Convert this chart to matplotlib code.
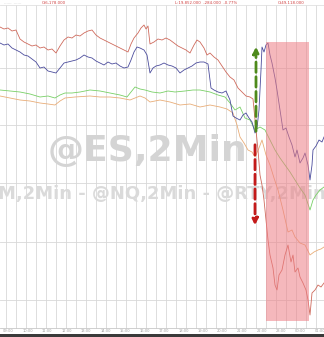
import matplotlib.pyplot as plt
from matplotlib.patches import Rectangle

# chart levels (screen units, top = 0)
red_x = [0, 4, 8, 12, 16, 20, 24, 28, 32, 36, 40, 44, 48, 52, 56, 60, 64, 68, 72, 76, 80, 84, 88,
         92, 96, 100, 104, 108, 112, 116, 120, 124, 128, 131, 134, 138, 141, 144, 146, 148, 150,
         154, 158, 162, 166, 170, 174, 178, 182, 186, 190, 194, 197, 200, 204, 207, 210, 214, 218,
         222, 226, 230, 234, 238, 242, 246, 250, 253, 256, 258, 260, 262, 264, 266, 268, 270, 273,
         275, 277, 279, 282, 285, 288, 291, 293, 295, 298, 300, 303, 306, 308, 310, 312, 315, 318,
         321, 324]
red_y = [27, 29, 28, 31, 30, 39, 42, 44, 46, 45, 48, 47, 50, 49, 53, 46, 40, 37, 38, 35, 36, 33, 31,
         30, 35, 38, 40, 42, 44, 46, 48, 50, 52, 44, 38, 33, 28, 25, 29, 26, 44,
         42, 39, 40, 38, 40, 43, 46, 48, 50, 53, 45, 40, 42, 48, 55, 53, 57, 60,
         66, 72, 77, 80, 88, 92, 96, 97, 99, 130, 150, 175, 185, 200, 220, 240, 255, 268,
         285, 290, 275, 270, 255, 245, 262, 255, 272, 268, 277, 283, 290, 300, 315, 293, 290, 285,
         287, 283]

blue_x = [0, 4, 8, 12, 16, 20, 24, 28, 32, 36, 40, 44, 48, 52, 56, 60, 64, 68, 72, 76, 80, 84, 88,
          92, 96, 100, 104, 108, 112, 116, 120, 124, 128, 131, 134, 137, 140, 144, 147, 150, 153,
          156, 160, 164, 168, 172, 176, 180, 184, 188, 192, 196, 200, 204, 208, 211, 214, 218, 222,
          226, 230, 233, 236, 240, 243, 246, 249, 252, 255, 257, 259, 261, 262, 264, 266, 268, 270,
          272, 275, 277, 280, 283, 286, 289, 292, 295, 297, 300, 303, 305, 308, 310, 312, 313, 316,
          319, 322, 324]
blue_y = [43, 45, 44, 48, 50, 52, 55, 56, 59, 62, 68, 67, 71, 72, 73, 68, 63, 62, 61, 60, 58, 55, 57,
          58, 61, 63, 65, 62, 64, 63, 66, 68, 67, 60, 52, 47, 48, 50, 55, 73, 68,
          66, 65, 63, 65, 66, 68, 73, 70, 68, 66, 63, 62, 62, 64, 88, 90, 92, 93,
          91, 100, 116, 118, 120, 115, 113, 118, 122, 133, 128, 110, 70, 47, 52, 45, 43, 55,
          63, 78, 90, 110, 130, 128, 137, 145, 157, 150, 163, 158, 153, 165, 180, 165, 150, 146,
          140, 142, 137]

green_x = [0, 10, 20, 30, 40, 48, 55, 60, 65, 72, 80, 90, 100, 110, 120, 127, 131, 135, 140, 145,
           152, 160, 168, 175, 185, 193, 200, 205, 210, 218, 225, 230, 235, 240, 245, 250, 255, 260,
           265, 270, 275, 280, 285, 290, 295, 300, 305, 310, 313, 316, 320, 324]
green_y = [90, 91, 92, 94, 97, 96, 98, 95, 93, 93, 92, 90, 91, 93, 95, 97, 92, 87, 89, 90,
           92, 93, 91, 92, 91, 90, 90, 91, 92, 95, 97, 103, 110, 107, 118, 120, 130, 127,
           130, 140, 150, 158, 165, 172, 180, 188, 195, 210, 200, 195, 190, 187]

orange_x = [0, 10, 20, 30, 40, 48, 55, 60, 65, 75, 90, 100, 110, 120, 130, 135, 140, 145, 150, 155,
            160, 170, 180, 190, 200, 210, 220, 227, 233, 237, 240, 244, 248, 252, 255, 259, 262,
            266, 270, 274, 278, 283, 288, 292, 295, 300, 305, 310, 314, 318, 321, 324]
orange_y = [96, 98, 100, 101, 103, 104, 105, 101, 98, 97, 96, 97, 97, 98, 100, 98, 96, 98, 102, 101,
            100, 102, 105, 104, 107, 105, 107, 109, 113, 125, 137, 143, 150, 152, 157, 148, 140,
            155, 165, 178, 190, 210, 232, 230, 237, 243, 245, 255, 252, 250, 249, 247]

time_labels = ["09:00", "10:00", "11:00", "12:00", "13:00", "14:00", "15:00", "16:00", "17:00",
               "18:00", "19:00", "20:00", "21:00", "22:00", "23:00", "00:00", "01:00"]

fig = plt.figure(figsize=(3.24, 3.37), dpi=100)
fig.patch.set_facecolor("white")
ax = fig.add_axes([0, 0, 1, 1])
ax.set_xlim(0, 324)
ax.set_ylim(337, 0)
ax.axis("off")

# grid
for gx in range(6, 324, 10):
    ax.plot([gx, gx], [5, 328], color="#d8d8d8", lw=0.6, zorder=0)
for gy in [68, 125, 183, 242, 300]:
    ax.plot([0, 324], [gy, gy], color="#d8d8d8", lw=0.6, zorder=0)

# watermark
ax.text(147, 151, "@ES,2Min", fontsize=26, fontweight="bold", color="#d4d4d4",
        ha="center", va="center", zorder=1)
ax.text(146, 194, "@YM,2Min - @NQ,2Min - @RTY,2Min", fontsize=13, fontweight="bold",
        color="#dadada", ha="center", va="center", zorder=1)

ax.plot(orange_x, orange_y, color="#e9ad78", lw=0.6, zorder=2)
ax.plot(green_x, green_y, color="#78d066", lw=0.6, zorder=2)
ax.plot(red_x, red_y, color="#cf6a5c", lw=0.6, zorder=3)
ax.plot(blue_x, blue_y, color="#4b4c9c", lw=0.6, zorder=3)

# highlighted window
ax.add_patch(Rectangle((266, 42), 43, 279, facecolor="#ee7f86", alpha=0.55,
                       edgecolor="none", zorder=4))

# arrows
ax.annotate("", xy=(256, 44), xytext=(256, 134),
            arrowprops=dict(arrowstyle="-|>", color="#4e8a1c", lw=2, ls="--",
                            mutation_scale=9), zorder=5)
ax.annotate("", xy=(255, 228), xytext=(255, 142),
            arrowprops=dict(arrowstyle="-|>", color="#c41a1a", lw=2, ls="--",
                            mutation_scale=9), zorder=5)

# header strip
ax.plot([0, 324], [5, 5], color="#e0e0e0", lw=0.6)
ax.text(4, 2.5, "------  ------", fontsize=2.5, color="#c8c8c8", va="center")
ax.text(42, 2.5, "O:6,178.000", fontsize=2.8, color="#d04040", va="center")
ax.text(175, 2.5, "L:19,852.000  -284.000  -0.77%", fontsize=2.8, color="#d04040", va="center")
ax.text(278, 2.5, "O:49,118.000", fontsize=2.8, color="#d04040", va="center")

# bottom axis
ax.plot([0, 324], [328, 328], color="#c8c8c8", lw=0.6)
for i, lab in enumerate(time_labels):
    ax.text(8 + i * 19.5, 331, lab, fontsize=2.6, color="#a0a0a0", ha="center", va="center")
ax.add_patch(Rectangle((0, 333.5), 324, 4, facecolor="#3a3a3a", edgecolor="none"))

fig.savefig("out.png", dpi=100)
